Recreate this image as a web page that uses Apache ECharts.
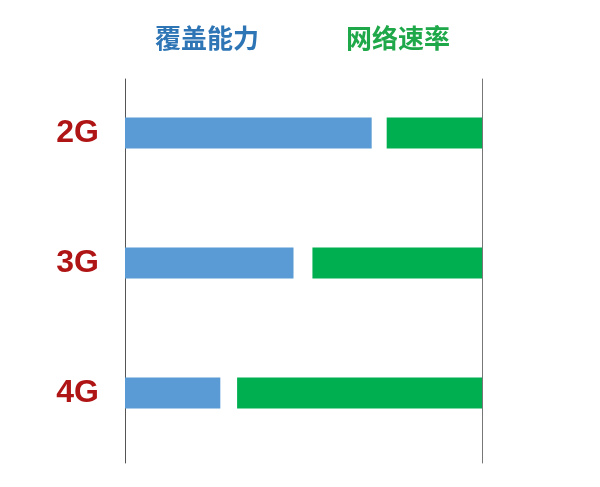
<!DOCTYPE html>
<html>
<head>
<meta charset="utf-8">
<script src="https://cdn.jsdelivr.net/npm/echarts@6/dist/echarts.min.js"></script>
<style>
  html, body { margin: 0; padding: 0; background: #fff; }
  #chart { width: 600px; height: 487px; }
</style>
</head>
<body>
<div id="chart"></div>
<script>
const categories = ['2G', '3G', '4G'];
const coverage = [69.1, 47.2, 26.7];
const gap = [4.2, 5.3, 4.7];
const speed = [26.7, 47.5, 68.6];
const headers = ['覆盖能力', '网络速率'];

const chart = echarts.init(document.getElementById('chart'));

chart.setOption({
  animation: false,
  title: [
    {
      text: headers[0], left: 150, top: 20,
      textStyle: { color: '#2E75B6', fontSize: 26, fontWeight: 'bold', fontFamily: 'Noto Sans CJK SC' },
    },
    {
      text: headers[1], left: 341, top: 20,
      textStyle: { color: '#1FA84A', fontSize: 26, fontWeight: 'bold', fontFamily: 'Noto Sans CJK SC' },
    },
  ],
  grid: [
    { left: 125, right: 118, top: 68, bottom: 29 },
    { left: 125, right: 118, top: 79, bottom: 24 },
  ],
  xAxis: [
    { type: 'value', gridIndex: 0, min: 0, max: 100, show: false },
    { type: 'value', gridIndex: 1, min: 0, max: 100, show: false },
  ],
  yAxis: [
    {
      type: 'category', gridIndex: 0, data: categories, inverse: true,
      axisLine: { show: false }, axisTick: { show: false },
      axisLabel: {
        margin: 26, color: '#B01515', fontSize: 32, fontWeight: 'bold',
        fontFamily: 'Liberation Sans',
      },
    },
    {
      type: 'value', gridIndex: 1, position: 'left', min: 0, max: 1,
      axisLine: { show: true, lineStyle: { color: '#555', width: 1 } },
      axisTick: { show: false }, axisLabel: { show: false }, splitLine: { show: false },
    },
    {
      type: 'value', gridIndex: 1, position: 'right', min: 0, max: 1,
      axisLine: { show: true, lineStyle: { color: '#777', width: 1 } },
      axisTick: { show: false }, axisLabel: { show: false }, splitLine: { show: false },
    },
  ],
  series: [
    {
      name: headers[0], type: 'bar', stack: 'all', data: coverage, barWidth: 31,
      itemStyle: { color: '#5B9BD5' },
    },
    {
      name: 'gap', type: 'bar', stack: 'all', data: gap, barWidth: 31,
      itemStyle: { color: 'transparent' }, silent: true,
    },
    {
      name: headers[1], type: 'bar', stack: 'all', data: speed, barWidth: 31,
      itemStyle: { color: '#00B050' },
    },
  ],
});
</script>
</body>
</html>
